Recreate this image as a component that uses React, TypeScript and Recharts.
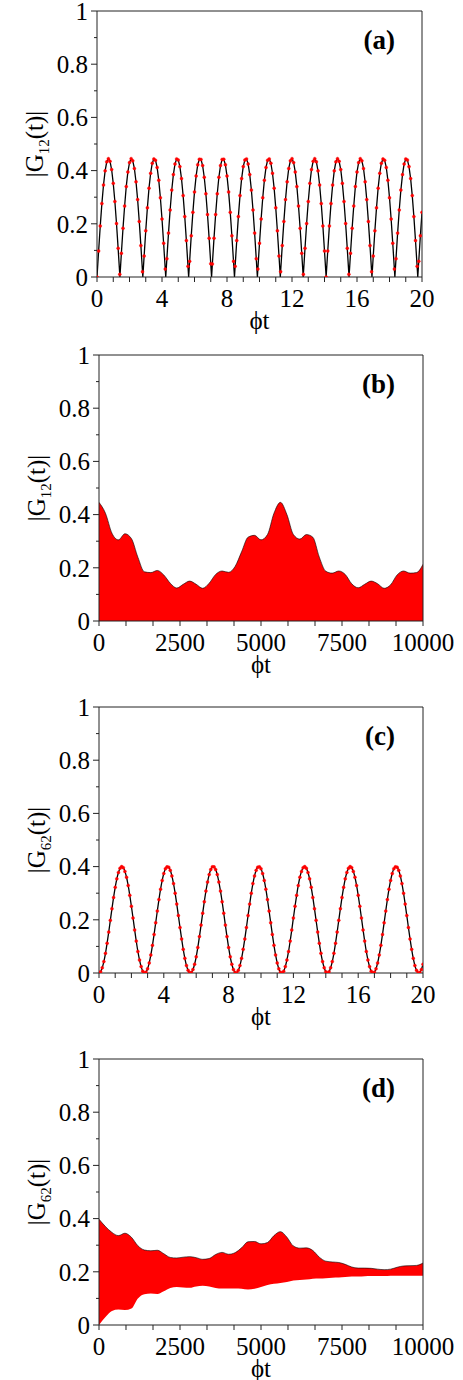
import React from 'react';
import { ComposedChart, Line, Area, XAxis, YAxis, ReferenceLine } from 'recharts';

const FONT = '"Liberation Serif", "Times New Roman", serif';
const AXIS = '#222';
const RED = '#ff0000';

const T_STEP = 0.1;
const ENV_STEP = 200;

// |G12(t)| for short times, one sample every 0.1
const g12Short = [
  0, 0.098, 0.192, 0.276, 0.346, 0.399, 0.433, 0.445, 0.435, 0.404, 0.352, 0.284, 0.201, 0.108,
  0.01, 0.089, 0.183, 0.267, 0.34, 0.395, 0.43, 0.445, 0.437, 0.408, 0.358, 0.291, 0.209, 0.118,
  0.02, 0.079, 0.174, 0.26, 0.334, 0.39, 0.428, 0.444, 0.439, 0.412, 0.364, 0.298, 0.218, 0.127,
  0.03, 0.069, 0.165, 0.252, 0.327, 0.385, 0.425, 0.444, 0.44, 0.415, 0.37, 0.306, 0.227, 0.137,
  0.04, 0.059, 0.155, 0.243, 0.32, 0.38, 0.422, 0.443, 0.442, 0.419, 0.375, 0.313, 0.235, 0.146,
  0.05, 0.049, 0.146, 0.235, 0.313, 0.375, 0.419, 0.442, 0.443, 0.422, 0.38, 0.32, 0.243, 0.155,
  0.059, 0.04, 0.137, 0.227, 0.306, 0.37, 0.415, 0.44, 0.444, 0.425, 0.385, 0.327, 0.252, 0.165,
  0.069, 0.03, 0.127, 0.218, 0.298, 0.364, 0.412, 0.439, 0.444, 0.428, 0.39, 0.334, 0.26, 0.174,
  0.079, 0.02, 0.118, 0.209, 0.291, 0.358, 0.408, 0.437, 0.445, 0.43, 0.395, 0.34, 0.267, 0.183,
  0.089, 0.01, 0.108, 0.201, 0.284, 0.352, 0.404, 0.435, 0.445, 0.433, 0.399, 0.346, 0.276, 0.192,
  0.098, 0, 0.098, 0.192, 0.276, 0.346, 0.399, 0.433, 0.445, 0.435, 0.404, 0.352, 0.284, 0.201,
  0.108, 0.01, 0.089, 0.183, 0.267, 0.34, 0.395, 0.43, 0.445, 0.437, 0.408, 0.358, 0.291, 0.209,
  0.118, 0.02, 0.079, 0.174, 0.26, 0.334, 0.39, 0.428, 0.444, 0.439, 0.412, 0.364, 0.298, 0.218,
  0.127, 0.03, 0.069, 0.165, 0.252, 0.327, 0.385, 0.425, 0.444, 0.44, 0.415, 0.37, 0.306, 0.227,
  0.137, 0.04, 0.059, 0.155, 0.243,
];

// where the black |G12| curve touches zero
const g12Zeros = [0, 1.41, 2.82, 4.23, 5.64, 7.05, 8.46, 9.87, 11.28, 12.69, 14.1, 15.51, 16.92, 18.33, 19.74];

// |G62(t)| for short times, one sample every 0.1
const g62Short = [
  0, 0.005, 0.02, 0.043, 0.074, 0.112, 0.154, 0.198, 0.242, 0.284, 0.322, 0.354, 0.378, 0.394,
  0.4, 0.396, 0.382, 0.36, 0.329, 0.292, 0.251, 0.207, 0.162, 0.12, 0.081, 0.049, 0.024, 0.007,
  0, 0.003, 0.016, 0.038, 0.068, 0.104, 0.145, 0.189, 0.233, 0.276, 0.315, 0.348, 0.374, 0.392,
  0.399, 0.398, 0.386, 0.365, 0.336, 0.3, 0.259, 0.216, 0.171, 0.128, 0.089, 0.055, 0.028, 0.01,
  0.001, 0.002, 0.013, 0.033, 0.061, 0.096, 0.137, 0.18, 0.225, 0.268, 0.308, 0.342, 0.37, 0.389,
  0.399, 0.399, 0.389, 0.37, 0.342, 0.308, 0.268, 0.225, 0.18, 0.137, 0.096, 0.061, 0.033, 0.013,
  0.002, 0.001, 0.01, 0.028, 0.055, 0.089, 0.128, 0.171, 0.216, 0.259, 0.3, 0.336, 0.365, 0.386,
  0.398, 0.399, 0.392, 0.374, 0.348, 0.315, 0.276, 0.233, 0.189, 0.145, 0.104, 0.068, 0.038, 0.016,
  0.003, 0, 0.007, 0.024, 0.049, 0.081, 0.12, 0.162, 0.207, 0.251, 0.292, 0.329, 0.36, 0.382,
  0.396, 0.4, 0.394, 0.378, 0.354, 0.322, 0.284, 0.242, 0.198, 0.154, 0.112, 0.074, 0.043, 0.02,
  0.005, 0, 0.005, 0.02, 0.043, 0.074, 0.112, 0.154, 0.198, 0.242, 0.284, 0.322, 0.354, 0.378,
  0.394, 0.4, 0.396, 0.382, 0.36, 0.329, 0.292, 0.251, 0.207, 0.162, 0.12, 0.081, 0.049, 0.024,
  0.007, 0, 0.003, 0.016, 0.038, 0.068, 0.104, 0.145, 0.189, 0.233, 0.276, 0.315, 0.348, 0.374,
  0.392, 0.399, 0.398, 0.386, 0.365, 0.336, 0.3, 0.259, 0.216, 0.171, 0.128, 0.089, 0.055, 0.028,
  0.01, 0.001, 0.002, 0.013, 0.033,
];

// long times: envelopes of the fast oscillation, one point every 200
const g12Upper = [
  0.446, 0.405, 0.33, 0.305, 0.328, 0.31, 0.24, 0.185, 0.182, 0.19,
  0.173, 0.142, 0.124, 0.138, 0.15, 0.138, 0.123, 0.142, 0.175, 0.188,
  0.183, 0.205, 0.26, 0.315, 0.322, 0.305, 0.325, 0.405, 0.446, 0.4,
  0.325, 0.308, 0.325, 0.315, 0.24, 0.187, 0.18, 0.188, 0.175, 0.14,
  0.125, 0.138, 0.15, 0.14, 0.123, 0.136, 0.173, 0.188, 0.18, 0.182,
  0.213,
];
const g62Upper = [
  0.398, 0.37, 0.348, 0.336, 0.345, 0.33, 0.298, 0.282, 0.279, 0.281,
  0.268, 0.254, 0.252, 0.255, 0.257, 0.253, 0.247, 0.25, 0.265, 0.273,
  0.266, 0.272, 0.29, 0.313, 0.314, 0.305, 0.31, 0.336, 0.351, 0.33,
  0.297, 0.289, 0.29, 0.28, 0.255, 0.24, 0.237, 0.235, 0.228, 0.218,
  0.214, 0.214, 0.213, 0.21, 0.208, 0.21, 0.217, 0.222, 0.223, 0.224,
  0.233,
];
const g62Lower = [
  0, 0.03, 0.053, 0.058, 0.056, 0.062, 0.1, 0.116, 0.118, 0.117,
  0.127, 0.139, 0.143, 0.141, 0.14, 0.145, 0.148, 0.145, 0.139, 0.137,
  0.137, 0.137, 0.136, 0.133, 0.136, 0.143, 0.15, 0.155, 0.158, 0.162,
  0.167, 0.169, 0.171, 0.174, 0.175, 0.176, 0.178, 0.179, 0.18, 0.182,
  0.182, 0.183, 0.184, 0.184, 0.184, 0.185, 0.185, 0.185, 0.185, 0.185,
  0.185,
];

const shortTicks = [0, 1, 2, 3, 4, 5, 6, 7, 8, 9, 10, 11, 12, 13, 14, 15, 16, 17, 18, 19, 20];
const shortLabels = [0, 4, 8, 12, 16, 20];
const longTicks = [0, 833.33, 1666.67, 2500, 3333.33, 4166.67, 5000, 5833.33, 6666.67, 7500, 8333.33, 9166.67, 10000];
const longLabels = [0, 2500, 5000, 7500, 10000];
const yTicks = [0, 0.1, 0.2, 0.3, 0.4, 0.5, 0.6, 0.7, 0.8, 0.9, 1];

const aDots = g12Short.map((v, i) => ({ t: +(i * T_STEP).toFixed(1), v }));
const aLine = [...aDots, ...g12Zeros.map((t) => ({ t, v: 0 }))].sort((p, q) => p.t - q.t);
const cDots = g62Short.map((v, i) => ({ t: +(i * T_STEP).toFixed(1), v }));
const bEnv = g12Upper.map((hi, i) => ({ t: i * ENV_STEP, hi }));
const dEnv = g62Upper.map((hi, i) => ({ t: i * ENV_STEP, hi, lo: g62Lower[i] }));

const textStyle = { fontFamily: FONT };

function YTick({ x, y, payload }: any) {
  const v = payload.value;
  const major = Math.round(v * 10) % 2 === 0;
  const txt = v === 0 ? '0' : v === 1 ? '1' : v.toFixed(1);
  return (
    <g>
      <line x1={x - (major ? 6 : 3)} y1={y} x2={x} y2={y} stroke={AXIS} strokeWidth={1} />
      {major && (
        <text x={x - 9} y={y} dy="0.35em" textAnchor="end" fontSize={25} style={textStyle} fill="#000">
          {txt}
        </text>
      )}
    </g>
  );
}

function XTick({ x, y, payload, labels }: any) {
  const v = payload.value;
  const major = labels.some((l: number) => Math.abs(l - v) < 1e-6);
  return (
    <g>
      <line x1={x} y1={y} x2={x} y2={y + 5} stroke={AXIS} strokeWidth={1} />
      {major && (
        <text x={x} y={y + 30} textAnchor="middle" fontSize={25} style={textStyle} fill="#000">
          {String(v)}
        </text>
      )}
    </g>
  );
}

interface PanelProps {
  top: number;
  left: number;
  right: number;
  xMax: number;
  xTicks: number[];
  xLabels: number[];
  tag: string;
  sub: string;
  titleX: number;
  children: React.ReactNode;
}

function Panel({ top, left, right, xMax, xTicks, xLabels, tag, sub, titleX, children }: PanelProps) {
  const plotTop = 20;
  const plotH = 266;
  const cx = (left + right) / 2;
  return (
    <div style={{ position: 'absolute', left: 0, top: top - plotTop }}>
      <ComposedChart width={463} height={350} margin={{ top: plotTop, right: 463 - right, bottom: 0, left: 0 }}>
        <XAxis
          type="number"
          dataKey="t"
          domain={[0, xMax]}
          ticks={xTicks}
          interval={0}
          allowDataOverflow
          tickSize={0}
          tickMargin={0}
          height={64}
          axisLine={{ stroke: AXIS, strokeWidth: 1 }}
          tickLine={false}
          tick={(p: any) => <XTick {...p} labels={xLabels} />}
          label={() => (
            <text x={cx} y={plotTop + plotH + 52} textAnchor="middle" fontSize={25} style={textStyle} fill="#000">
              ϕt
            </text>
          )}
        />
        <YAxis
          type="number"
          domain={[0, 1]}
          ticks={yTicks}
          interval={0}
          allowDataOverflow
          width={left}
          tickSize={0}
          tickMargin={0}
          axisLine={{ stroke: AXIS, strokeWidth: 1 }}
          tickLine={false}
          tick={(p: any) => <YTick {...p} />}
          label={() => {
            const cy = plotTop + plotH / 2;
            return (
              <g>
                <text
                  x={titleX}
                  y={cy}
                  transform={`rotate(-90 ${titleX} ${cy})`}
                  textAnchor="middle"
                  fontSize={25}
                  style={textStyle}
                  fill="#000"
                >
                  |G
                  <tspan fontSize={15} dy={6}>{sub}</tspan>
                  <tspan dy={-6}>(t)|</tspan>
                </text>
                <text x={395} y={plotTop + 38} textAnchor="end" fontSize={27} fontWeight="bold" style={textStyle} fill="#000">
                  {tag}
                </text>
              </g>
            );
          }}
        />
        {children}
        <ReferenceLine y={1} stroke={AXIS} strokeWidth={1} ifOverflow="visible" />
        <ReferenceLine x={xMax} stroke={AXIS} strokeWidth={1} ifOverflow="visible" />
      </ComposedChart>
    </div>
  );
}

const dotStyle = { r: 1.5, fill: RED, stroke: RED, strokeWidth: 0.4 };

export default function App() {
  return (
    <div style={{ position: 'absolute', left: 0, top: 0, width: 463, height: 1380, background: '#fff' }}>
      <Panel top={11} left={97} right={422} xMax={20} xTicks={shortTicks} xLabels={shortLabels} tag="(a)" sub="12" titleX={43}>
        <Line data={aLine} dataKey="v" type="linear" stroke="#000" strokeWidth={1.3} dot={false} isAnimationActive={false} />
        <Line data={aDots} dataKey="v" stroke="none" dot={dotStyle} activeDot={false} isAnimationActive={false} />
      </Panel>
      <Panel top={355} left={99} right={423} xMax={10000} xTicks={longTicks} xLabels={longLabels} tag="(b)" sub="12" titleX={45}>
        <Area data={bEnv} dataKey="hi" type="monotone" baseValue={0} fill={RED} fillOpacity={1} stroke="none" isAnimationActive={false} />
        <Line data={bEnv} dataKey="hi" type="monotone" stroke="#000" strokeWidth={0.6} dot={false} isAnimationActive={false} />
      </Panel>
      <Panel top={707} left={99} right={423} xMax={20} xTicks={shortTicks} xLabels={shortLabels} tag="(c)" sub="62" titleX={45}>
        <Line data={cDots} dataKey="v" type="monotone" stroke="#000" strokeWidth={1.3} dot={false} isAnimationActive={false} />
        <Line data={cDots} dataKey="v" stroke="none" dot={dotStyle} activeDot={false} isAnimationActive={false} />
      </Panel>
      <Panel top={1059} left={99} right={423} xMax={10000} xTicks={longTicks} xLabels={longLabels} tag="(d)" sub="62" titleX={45}>
        <Area
          data={dEnv}
          dataKey={(d: any) => [d.lo, d.hi]}
          type="monotone"
          fill={RED}
          fillOpacity={1}
          stroke="none"
          isAnimationActive={false}
        />
        <Line data={dEnv} dataKey="hi" type="monotone" stroke="#000" strokeWidth={0.6} dot={false} isAnimationActive={false} />
      </Panel>
    </div>
  );
}
